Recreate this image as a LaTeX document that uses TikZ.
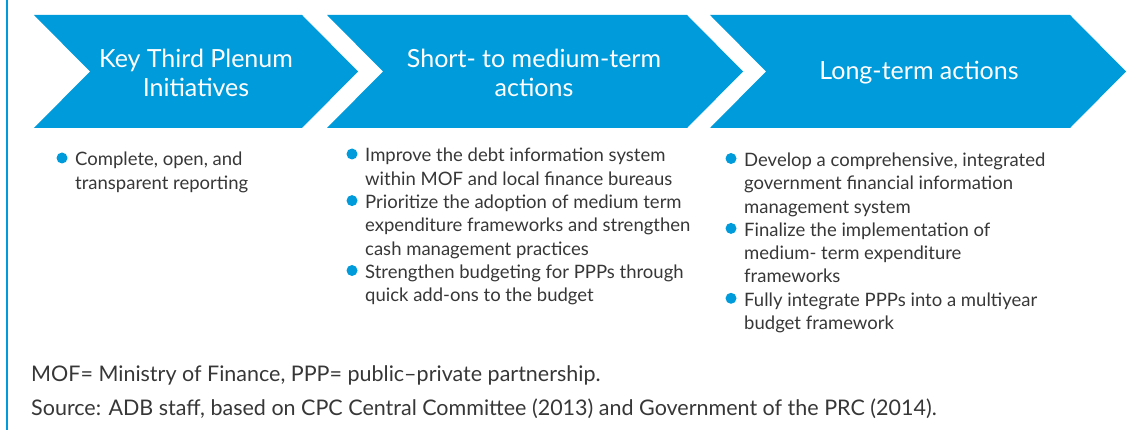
\documentclass[tikz,border=0pt]{standalone}
\usepackage{fontspec}
\setmainfont{Lato}
\usetikzlibrary{positioning}

\definecolor{adbblue}{RGB}{0,155,218}
\definecolor{bodygray}{RGB}{55,55,55}

% lines of one bullet, first baseline on the node's base
\newcommand{\itemlines}[1]{\begin{tabular}[t]{@{}l@{}}#1\end{tabular}}

\tikzset{
  chevtitle/.style={text=white, font=\fontsize{25}{29}\selectfont, align=center, inner sep=0pt},
  itemtext/.style={text=bodygray, font=\fontsize{18.5}{23.3}\selectfont, anchor=base west, inner sep=0pt},
  dot/.style={circle, fill=adbblue, minimum size=11pt, inner sep=0pt},
  notetext/.style={text=bodygray, font=\fontsize{21.5}{26}\selectfont, anchor=base west, inner sep=0pt}
}

\begin{document}
\begin{tikzpicture}[x=1pt, y=-1pt]
\useasboundingbox (0,0) rectangle (1140,430);
% left rule
\draw[adbblue, line width=1.5pt] (7,0) -- (7,430);
% three chevrons (left edge / right corner), 56 deep
\foreach \l/\r in {34/302, 327/687, 710/1070}{
  \fill[adbblue] (\l,15) -- (\r,15) -- (\r+56,71.5) -- (\r,128) -- (\l,128) -- (\l+56,71.5) -- cycle;
}
\node[chevtitle] (keytitle) at (196,73) {Key Third Plenum\\Initiatives};
\node[chevtitle] (shorttitle) at (534,73) {Short- to medium-term\\actions};
\node[chevtitle] (longtitle) at (919,73) {Long-term actions};

% column 1
\node[itemtext] (k1) at (75,166) {\itemlines{Complete, open, and\\transparent reporting}};
% column 2
\node[itemtext] (s1) at (365,162) {\itemlines{Improve the debt information system\\within MOF and local finance bureaus}};
\node[itemtext] (s2) at (365,208.6) {\itemlines{Prioritize the adoption of medium term\\expenditure frameworks and strengthen\\cash management practices}};
\node[itemtext] (s3) at (365,278.5) {\itemlines{Strengthen budgeting for PPPs through\\quick add-ons to the budget}};
% column 3
\node[itemtext] (l1) at (744,166.5) {\itemlines{Develop a comprehensive, integrated\\government financial information\\management system}};
\node[itemtext] (l2) at (744,236.4) {\itemlines{Finalize the implementation of\\medium- term expenditure\\frameworks}};
\node[itemtext] (l3) at (744,306.3) {\itemlines{Fully integrate PPPs into a multiyear\\budget framework}};
% bullets
\foreach \n in {k1,s1,s2,s3,l1,l2,l3}{
  \node[dot] at ([xshift=-13pt,yshift=8pt]\n.base west) {};
}

% notes
\node[notetext] (abbrev) at (31,381.5) {MOF= Ministry of Finance, PPP= public–private partnership.};
\node[notetext] (source) at (31,415.5) {Source: ADB staff, based on CPC Central Committee (2013) and Government of the PRC (2014).};
\end{tikzpicture}
\end{document}
